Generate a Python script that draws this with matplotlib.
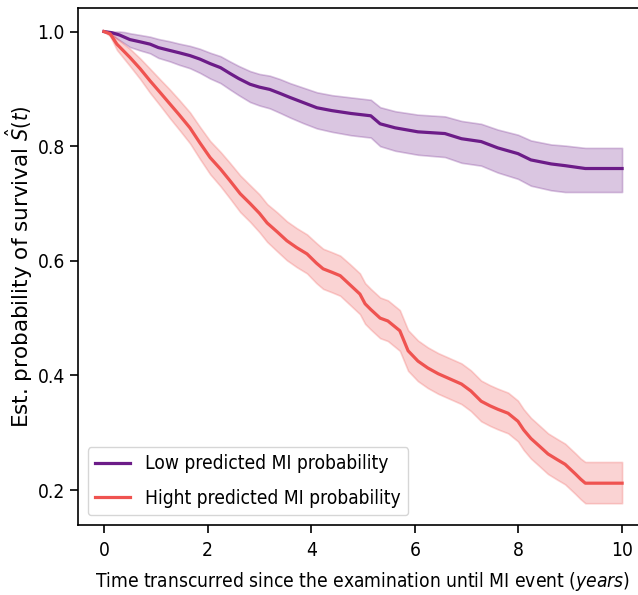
import numpy as np
import matplotlib
matplotlib.use("Agg")
import matplotlib.pyplot as plt

# Kaplan-Meier estimates
low_t = [0, 0.15, 0.3, 0.4, 0.5, 0.7, 0.89, 1.05, 1.27, 1.45,
         1.66, 1.85, 2.05, 2.25, 2.43, 2.6, 2.82, 3.0, 3.2, 3.4,
         3.59, 3.85, 4.11, 4.4, 4.77, 5.15, 5.33, 5.62, 6.06, 6.58,
         6.9, 7.28, 7.6, 7.99, 8.24, 8.63, 8.9, 9.29, 10]
low_s = [1.0, 0.998, 0.994, 0.99, 0.986, 0.982, 0.978, 0.972, 0.967, 0.963,
         0.958, 0.952, 0.944, 0.937, 0.927, 0.918, 0.908, 0.903, 0.899, 0.892,
         0.885, 0.876, 0.867, 0.862, 0.857, 0.853, 0.839, 0.832, 0.825, 0.822,
         0.813, 0.808, 0.797, 0.787, 0.776, 0.769, 0.766, 0.761, 0.761]
low_hi = [1.0, 1.0, 1.0, 0.999, 0.997, 0.994, 0.991, 0.987, 0.983, 0.979,
          0.975, 0.970, 0.963, 0.957, 0.948, 0.940, 0.931, 0.926, 0.923, 0.917,
          0.910, 0.902, 0.894, 0.889, 0.885, 0.881, 0.868, 0.861, 0.855, 0.852,
          0.844, 0.839, 0.829, 0.820, 0.810, 0.803, 0.801, 0.797, 0.797]
low_lo = [1.0, 0.993, 0.985, 0.979, 0.973, 0.967, 0.962, 0.954, 0.948, 0.942,
          0.936, 0.928, 0.918, 0.910, 0.899, 0.889, 0.877, 0.871, 0.866, 0.858,
          0.850, 0.840, 0.831, 0.825, 0.819, 0.815, 0.800, 0.792, 0.785, 0.781,
          0.771, 0.766, 0.754, 0.743, 0.731, 0.723, 0.720, 0.720, 0.720]

high_t = [0, 0.12, 0.25, 0.5, 0.7, 0.89, 1.1, 1.27, 1.45, 1.66,
          1.85, 2.05, 2.25, 2.43, 2.63, 2.82, 3.0, 3.15, 3.35, 3.53,
          3.72, 3.92, 4.1, 4.23, 4.4, 4.56, 4.75, 4.94, 5.04, 5.15,
          5.33, 5.48, 5.71, 5.87, 6.06, 6.25, 6.45, 6.7, 6.9, 7.08,
          7.28, 7.45, 7.6, 7.8, 7.99, 8.1, 8.24, 8.4, 8.57, 8.75,
          8.9, 9.1, 9.2, 9.29, 10]
high_s = [1.0, 0.996, 0.978, 0.955, 0.935, 0.914, 0.892, 0.874, 0.855, 0.832,
          0.806, 0.78, 0.760, 0.74, 0.717, 0.70, 0.683, 0.666, 0.650, 0.635,
          0.623, 0.612, 0.596, 0.586, 0.580, 0.574, 0.558, 0.542, 0.525, 0.515,
          0.500, 0.495, 0.478, 0.443, 0.425, 0.413, 0.403, 0.393, 0.385, 0.373,
          0.355, 0.347, 0.341, 0.334, 0.320, 0.305, 0.290, 0.277, 0.263, 0.253,
          0.245, 0.228, 0.219, 0.212, 0.212]
high_hi = [1.0, 1.0, 0.988, 0.970, 0.953, 0.935, 0.915, 0.899, 0.881, 0.859,
           0.834, 0.809, 0.790, 0.771, 0.749, 0.732, 0.716, 0.699, 0.684, 0.669,
           0.657, 0.646, 0.631, 0.621, 0.615, 0.609, 0.594, 0.578, 0.561, 0.551,
           0.536, 0.531, 0.514, 0.479, 0.461, 0.449, 0.439, 0.429, 0.421, 0.409,
           0.391, 0.383, 0.377, 0.370, 0.356, 0.341, 0.326, 0.313, 0.299, 0.289,
           0.281, 0.264, 0.255, 0.249, 0.249]
high_lo = [1.0, 0.992, 0.968, 0.940, 0.917, 0.893, 0.869, 0.849, 0.829, 0.805,
           0.778, 0.751, 0.730, 0.709, 0.685, 0.668, 0.650, 0.633, 0.616, 0.601,
           0.589, 0.578, 0.561, 0.551, 0.545, 0.539, 0.523, 0.507, 0.490, 0.480,
           0.465, 0.460, 0.443, 0.408, 0.390, 0.378, 0.368, 0.358, 0.350, 0.338,
           0.320, 0.312, 0.306, 0.299, 0.285, 0.270, 0.255, 0.242, 0.228, 0.218,
           0.210, 0.193, 0.184, 0.177, 0.177]

labels = ["Low predicted MI probability", "Hight predicted MI probability"]
colors = ["#6c1c88", "#ef5350"]

plt.rcParams['font.family'] = ['DejaVu Sans']
plt.rcParams['font.stretch'] = 'condensed'
plt.rcParams['font.size'] = 13.8
plt.rcParams['mathtext.fontset'] = 'dejavusans'

fig = plt.figure(figsize=(6.38, 5.95), dpi=100)
ax = fig.add_axes([0.1223, 0.1176, 0.8934, 0.8689])

curves = [(low_t, low_s, low_lo, low_hi), (high_t, high_s, high_lo, high_hi)]
for (t, s, lo, hi), lab, c in zip(curves, labels, colors):
    ax.fill_between(t, lo, hi, color=c, alpha=0.25, lw=1.2)
    ax.plot(t, s, color=c, lw=2.3, label=lab)

ax.set_xticks([0, 2, 4, 6, 8, 10])
ax.set_yticks([0.2, 0.4, 0.6, 0.8, 1.0])
ax.set_xlim(-0.5, 10.5)
ax.set_ylim(0.139, 1.041)
ax.set_xlabel("Time transcurred since the examination until MI event ($\\it{years}$)", labelpad=7)
# vertical text keeps its full length in the reference, so no condensed face here
ax.set_ylabel("Est. probability of survival $\\hat{S}(t)$", labelpad=2,
              fontsize=15.5, fontstretch='normal')
for sp in ax.spines.values():
    sp.set_linewidth(1.2)
ax.tick_params(width=1.2, length=6)
ax.tick_params(axis='x', pad=5.5)
ax.legend(loc='lower left', handlelength=1.8, labelspacing=0.8)

fig.savefig("out.png", dpi=100)
